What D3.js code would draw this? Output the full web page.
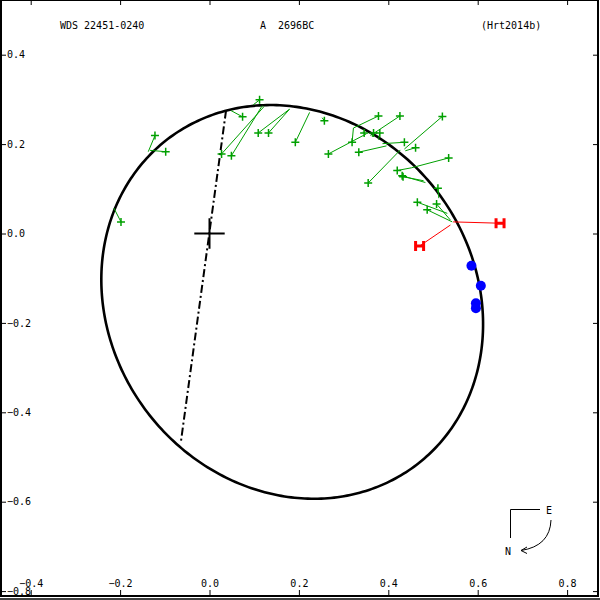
<!DOCTYPE html>
<html>
<head>
<meta charset="utf-8">
<script src="https://cdn.jsdelivr.net/npm/d3@7"></script>
<style>
  html, body { margin: 0; padding: 0; background: #fff; }
  svg { display: block; }
  text { font-family: "DejaVu Sans Mono", "Liberation Mono", monospace; font-size: 10px; fill: #000; white-space: pre; }
</style>
</head>
<body>
<div id="chart"></div>
<script>
// Orbit plot for WDS 22451-0240

// Header texts
const titleTexts = ['WDS 22451-0240', 'A  2696BC', '(Hrt2014b)']

// Axis ticks (arcsec)
const xTicks = [-0.4, -0.2, 0.0, 0.2, 0.4, 0.6, 0.8]
const yTicks = [0.4, 0.2, 0.0, -0.2, -0.4, -0.6, -0.8]

// Apparent orbit ellipse: centre x, centre y, semi-major, semi-minor, tilt (deg)
const orbitEllipse = [0.185, -0.153, 0.4585, 0.4075, -52.6]

// Line of nodes (both ends on the orbit)
const nodeX = [0.037, -0.064]
const nodeY = [0.275, -0.466]

// Visual measures (green): observed position and predicted position on orbit
const greenObsX = [-0.122, -0.098, -0.198, 0.112, 0.074, 0.027, 0.049, 0.109, 0.132, 0.192, 0.257, 0.378, 0.319, 0.266, 0.426, 0.346, 0.367, 0.381, 0.334, 0.436, 0.521, 0.355, 0.461, 0.535, 0.420, 0.431, 0.433, 0.511, 0.465, 0.508, 0.487]
const greenObsY = [0.219, 0.183, 0.026, 0.299, 0.261, 0.178, 0.174, 0.225, 0.225, 0.204, 0.252, 0.263, 0.204, 0.178, 0.263, 0.225, 0.225, 0.225, 0.182, 0.204, 0.262, 0.113, 0.192, 0.169, 0.141, 0.129, 0.127, 0.101, 0.070, 0.066, 0.053]
const greenFitX = [-0.137, -0.133, -0.214, 0.098, 0.048, 0.122, 0.118, 0.179, 0.179, 0.224, 0.252, 0.322, 0.322, 0.351, 0.360, 0.344, 0.364, 0.378, 0.396, 0.387, 0.436, 0.427, 0.438, 0.452, 0.452, 0.483, 0.479, 0.513, 0.532, 0.539, 0.543]
const greenFitY = [0.183, 0.186, 0.057, 0.288, 0.275, 0.284, 0.286, 0.278, 0.278, 0.271, 0.259, 0.236, 0.236, 0.223, 0.219, 0.228, 0.216, 0.210, 0.196, 0.201, 0.189, 0.187, 0.185, 0.147, 0.147, 0.114, 0.118, 0.079, 0.045, 0.030, 0.026]

// Hipparcos-type measures (red)
const redObsX = [0.650, 0.470]
const redObsY = [0.023, -0.028]
const redFitX = [0.545, 0.539]
const redFitY = [0.026, 0.019]

// Interferometric measures (blue)
const blueX = [0.586, 0.607, 0.596, 0.596]
const blueY = [-0.072, -0.117, -0.156, -0.167]

// Layout
const W = 600, H = 600
const x0 = 209.5, y0 = 233.5, k = 447

let svg = d3.select('#chart').append('svg')
    .attr('width', W)
    .attr('height', H)

let x = d3.scaleLinear()
    .domain([-0.4, 0.8])
    .range([x0 - 0.4 * k, x0 + 0.8 * k])
let y = d3.scaleLinear()
    .domain([-0.8, 0.4])
    .range([y0 + 0.8 * k, y0 - 0.4 * k])

// Orbit
let [cx, cy, a, b, tilt] = orbitEllipse
let th = tilt * Math.PI / 180
let orbitPts = d3.range(0, 360, 1).map(deg => {
  let t = deg * Math.PI / 180
  return [
    cx + a * Math.cos(th) * Math.cos(t) - b * Math.sin(th) * Math.sin(t),
    cy + a * Math.sin(th) * Math.cos(t) + b * Math.cos(th) * Math.sin(t)
  ]
})
let line = d3.line().x(d => x(d[0])).y(d => y(d[1]))

svg.append('path')
  .attr('d', line.curve(d3.curveLinearClosed)(orbitPts))
  .attr('fill', 'none')
  .attr('stroke', '#000')
  .attr('stroke-width', 2.6)

// Line of nodes
svg.append('line')
  .attr('x1', x(nodeX[0])).attr('y1', y(nodeY[0]))
  .attr('x2', x(nodeX[1])).attr('y2', y(nodeY[1]))
  .attr('stroke', '#000')
  .attr('stroke-width', 2)
  .attr('stroke-dasharray', '8,3,2,3')

// Primary cross
let cs = 0.034
svg.append('path')
  .attr('d', `M${x(-cs)},${y(0)}H${x(cs)}M${x(0)},${y(cs)}V${y(-cs)}`)
  .attr('stroke', '#000')
  .attr('stroke-width', 2)

// Green O-C lines and plus marks
let green = '#00a000'
let g = svg.append('g')
greenObsX.forEach((ox, i) => {
  g.append('line')
    .attr('x1', x(ox)).attr('y1', y(greenObsY[i]))
    .attr('x2', x(greenFitX[i])).attr('y2', y(greenFitY[i]))
    .attr('stroke', green)
    .attr('stroke-width', 1)
})
greenObsX.forEach((ox, i) => {
  let px = x(ox), py = y(greenObsY[i])
  g.append('path')
    .attr('d', `M${px - 4},${py}H${px + 4}M${px},${py - 4}V${py + 4}`)
    .attr('stroke', green)
    .attr('stroke-width', 1.5)
})

// Red O-C lines and H marks
redObsX.forEach((ox, i) => {
  svg.append('line')
    .attr('x1', x(ox)).attr('y1', y(redObsY[i]))
    .attr('x2', x(redFitX[i])).attr('y2', y(redFitY[i]))
    .attr('stroke', '#ff0000')
    .attr('stroke-width', 1)
})
redObsX.forEach((ox, i) => {
  let px = x(ox), py = y(redObsY[i])
  svg.append('path')
    .attr('d', `M${px - 4},${py - 5}V${py + 5}M${px + 4},${py - 5}V${py + 5}M${px - 4},${py}H${px + 4}`)
    .attr('stroke', '#ff0000')
    .attr('stroke-width', 3)
    .attr('fill', 'none')
})

// Blue dots
svg.selectAll('circle.speckle')
  .data(blueX)
  .enter().append('circle')
  .attr('class', 'speckle')
  .attr('cx', d => x(d))
  .attr('cy', (d, i) => y(blueY[i]))
  .attr('r', 5)
  .attr('fill', '#0000ff')

// Frame and ticks
let frame = svg.append('g')
frame.append('rect')
  .attr('x', 1).attr('y', 0)
  .attr('width', 597).attr('height', 596)
  .attr('fill', 'none')
  .attr('stroke', '#000')
  .attr('stroke-width', 2)
frame.append('line')
  .attr('x1', 0).attr('x2', 600)
  .attr('y1', 599).attr('y2', 599)
  .attr('stroke', '#000')
  .attr('stroke-width', 1.5)

let xAxisBottom = d3.axisBottom(x)
    .tickValues(xTicks)
    .tickSize(-6)
    .tickPadding(-16)
    .tickFormat(d3.format('.1f'))
let xAxisTop = d3.axisBottom(x)
    .tickValues(xTicks)
    .tickSize(5)
    .tickFormat('')
let yAxisLeft = d3.axisRight(y)
    .tickValues(yTicks)
    .tickSize(5)
    .tickPadding(1)
    .tickFormat(d3.format('.1f'))
let yAxisRight = d3.axisLeft(y)
    .tickValues(yTicks)
    .tickSize(5)
    .tickFormat('')

let axes = [
  [xAxisBottom, 'translate(0,596)'],
  [xAxisTop, 'translate(0,0)'],
  [yAxisLeft, 'translate(1,0)'],
  [yAxisRight, 'translate(598,0)']
]
axes.forEach(([ax, tr]) => {
  let sel = svg.append('g')
    .attr('transform', tr)
    .call(ax)
  sel.select('.domain').remove()
  sel.selectAll('.tick line').attr('stroke', '#000').attr('stroke-width', 1)
  sel.selectAll('.tick text')
    .attr('fill', '#000')
    .style('font-family', '"DejaVu Sans Mono", monospace')
    .style('font-size', '10px')
})

// Title line
let titleX = [60, 260, 481]
titleTexts.forEach((t, i) => {
  svg.append('text')
    .attr('x', titleX[i])
    .attr('y', 29)
    .attr('xml:space', 'preserve')
    .text(t)
})

// Compass
let comp = svg.append('g')
  .attr('fill', 'none')
  .attr('stroke', '#000')
  .attr('stroke-width', 1)
comp.append('path').attr('d', 'M540,509.5H510.5V538')
comp.append('path').attr('d', 'M551,520Q550,546 521,550.5')
comp.append('path').attr('d', 'M527,547L521,550.5L527,553.5')
svg.append('text').attr('x', 546).attr('y', 514).text('E')
svg.append('text').attr('x', 505).attr('y', 555).text('N')
</script>
</body>
</html>
